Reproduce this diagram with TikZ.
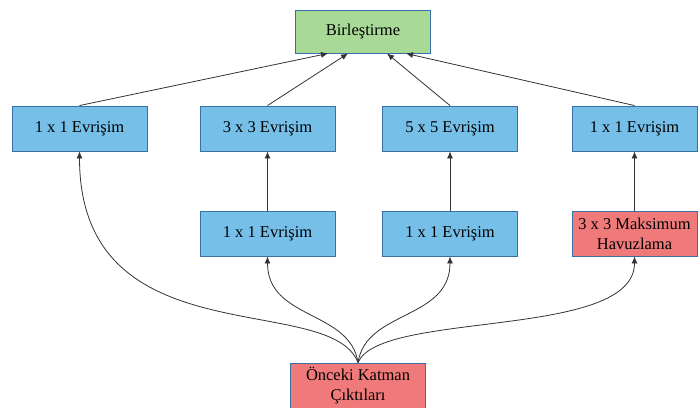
\documentclass[tikz,border=0pt]{standalone}
\usepackage{fontspec}
\setmainfont{Liberation Serif}
\usetikzlibrary{arrows.meta}
\definecolor{kutumavi}{HTML}{75BFE8}
\definecolor{kutuyesil}{HTML}{A9D996}
\definecolor{kutukirmizi}{HTML}{F07A7A}
\definecolor{kenar}{HTML}{3A70A8}
\begin{document}
\begin{tikzpicture}[x=1pt, y=-1pt,
    box/.style={rectangle, draw=kenar, line width=0.9pt, minimum width=135pt, minimum height=45pt, inner sep=0pt, align=center, font=\fontsize{16.5}{20}\selectfont},
    evr/.style={box, fill=kutumavi},
    hav/.style={box, fill=kutukirmizi},
    ok/.style={-{Latex[length=7pt, width=6pt]}, line width=0.8pt, black!80}
]
    \useasboundingbox (0,0) rectangle (700,407);

    \node[box, fill=kutuyesil, minimum height=43pt] (birl) at (363,31.5) {Birleştirme};

    \node[evr] (e1) at (79.5,128.5) {1 x 1 Evrişim};
    \node[evr] (e3) at (267.5,128.5) {3 x 3 Evrişim};
    \node[evr] (e5) at (450,128.5) {5 x 5 Evrişim};
    \node[evr, minimum width=125pt] (e1b) at (634.5,128.5) {1 x 1 Evrişim};

    \node[evr] (r1) at (267.5,233.5) {1 x 1 Evrişim};
    \node[evr] (r2) at (450,233.5) {1 x 1 Evrişim};
    \node[hav, minimum width=125pt] (maks) at (634.5,233.5) {3 x 3 Maksimum\\Havuzlama};

    \node[hav] (giris) at (358,385.5) {Önceki Katman\\Çıktıları};

    % birlestirmeye giden oklar
    \draw[ok] (e1.north) -- ([xshift=-35pt]birl.south);
    \draw[ok] (e3.north) -- ([xshift=-15pt]birl.south);
    \draw[ok] (e5.north) -- ([xshift=24pt]birl.south);
    \draw[ok] (e1b.north) -- ([xshift=43pt]birl.south);

    \draw[ok] (r1) -- (e3);
    \draw[ok] (r2) -- (e5);
    \draw[ok] (maks) -- (e1b);

    % onceki katmandan cikan egriler
    \draw[ok] (giris.north) .. controls (330,290) and (79.5,360) .. (e1.south);
    \draw[ok] (giris.north) .. controls (350,310) and (267.5,320) .. (r1.south);
    \draw[ok] (giris.north) .. controls (366,310) and (450,320) .. (r2.south);
    \draw[ok] (giris.north) .. controls (380,310) and (634.5,340) .. (maks.south);
\end{tikzpicture}
\end{document}
